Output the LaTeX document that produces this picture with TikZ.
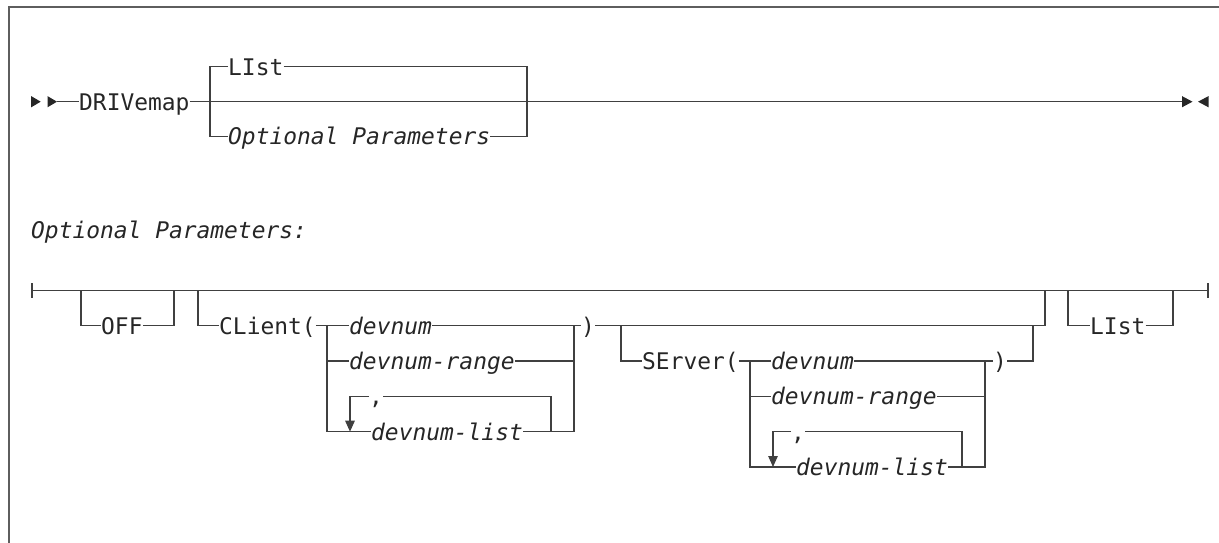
\documentclass[tikz,border=0pt]{standalone}
\usepackage{fontspec}
\setmonofont{DejaVu Sans Mono}
\usetikzlibrary{arrows.meta}
\definecolor{linec}{HTML}{404040}
\definecolor{framec}{HTML}{5E5E5E}
\definecolor{txtc}{HTML}{262626}
\newcommand{\rrfont}{\fontsize{22.9pt}{26pt}\selectfont\ttfamily}
\begin{document}
\begin{tikzpicture}[x=1pt,y=-1pt,
  rr/.style={draw=linec,line width=1.3pt},
  kw/.style={inner sep=0pt,text height=16.7pt,text depth=0pt,anchor=west,text=txtc,font=\rrfont},
  var/.style={kw,font=\rrfont\itshape},
  tipfill/.style={fill=txtc,draw=none},
  loopdown/.style={rr,-{Triangle[length=11pt,width=9.5pt]}}]
\useasboundingbox (0,0) rectangle (1219,543);
% frame
\draw[draw=framec,line width=2pt] (9.3,543) -- (9.3,7.3) -- (1219,7.3);
% ---------------- top diagram
\def\ya{66.7}\def\yb{101.7}\def\yc{136.4}
\coordinate (st1) at (31.2,\yb);
\coordinate (st2) at (47.5,\yb);
\coordinate (s0) at (57,\yb);
\fill[tipfill] (st1) ++(0,-5.6) -- ++(9.5,5.6) -- ++(-9.5,5.6) -- cycle;
\fill[tipfill] (st2) ++(0,-5.6) -- ++(9.5,5.6) -- ++(-9.5,5.6) -- cycle;
\node[kw] (drive) at (79,\yb) {DRIVemap};
\coordinate (ja) at (210,\yb);
\coordinate (jb) at (527,\yb);
\coordinate (tend) at (1182,\yb);
\coordinate (tend2) at (1208.5,\yb);
\draw[rr] (s0) -- (drive.west);
\draw[rr] (drive.east) -- (tend);
\node[kw] (list1) at (228,\ya) {LIst};
\node[var] (opt1) at (228,\yc) {Optional Parameters};
\draw[rr] (list1.west) -- (list1.west -| ja) -- (opt1.west -| ja) -- (opt1.west);
\draw[rr] (list1.east) -- (list1.east -| jb) -- (opt1.east -| jb) -- (opt1.east);
\fill[tipfill] (tend) ++(0,-5.6) -- ++(10.5,5.6) -- ++(-10.5,5.6) -- cycle;
\fill[tipfill] (tend2) ++(0,-5.6) -- ++(-10.5,5.6) -- ++(10.5,5.6) -- cycle;
% label
\node[var] (optlab) at (31,230) {Optional Parameters:};
% ---------------- lower diagram
\def\la{290.5}\def\lb{325.8}\def\lc{361.1}\def\ld{396.4}\def\le{431.7}\def\lf{467.0}
\coordinate (lstart) at (32,\la);
\coordinate (lend) at (1208,\la);
\draw[rr] (lstart) -- (lend);
\draw[rr] (lstart) ++(0,-7.5) -- ++(0,15);
\draw[rr] (lend) ++(0,-7.5) -- ++(0,15);
% OFF
\coordinate (offl) at (81,\la);
\coordinate (offr) at (174,\la);
\node[kw] (off) at (101,\lb) {OFF};
\draw[rr] (offl) |- (off.west);
\draw[rr] (off.east) -| (offr);
% CLient
\coordinate (cll) at (198,\la);
\coordinate (clr) at (1045,\la);
\node[kw] (client) at (219,\lb) {CLient(};
\coordinate (cj) at (327,\lb);
\node[var] (cdev) at (349,\lb) {devnum};
\coordinate (cr) at (574,\lb);
\node[kw] (cpar) at (581,\lb) {)};
\draw[rr] (cll) |- (client.west);
\draw[rr] (client.east) -- (cdev.west);
\draw[rr] (cdev.east) -- (cpar.west);
\draw[rr] (cpar.east) -| (clr);
\node[var] (crange) at (349,\lc) {devnum-range};
\node[kw] (ccomma) at (369,\ld) {,};
\node[var] (clist) at (371,\le) {devnum-list};
\coordinate (clpl) at (350,\ld);
\coordinate (clpr) at (551,\ld);
\draw[rr] (cj) |- (crange.west);
\draw[rr] (cj) |- (clist.west);
\draw[rr] (crange.east) -| (cr);
\draw[rr] (clist.east) -| (cr);
\draw[rr] (ccomma.east) -- (clpr) -- (clpr |- clist.east);
\draw[loopdown] (ccomma.west) -| (clpl |- clist.west);
% SErver
\coordinate (svl) at (621,\lb);
\coordinate (svr) at (1033,\lb);
\node[kw] (server) at (642,\lc) {SErver(};
\coordinate (sj) at (750,\lc);
\node[var] (sdev) at (771,\lc) {devnum};
\coordinate (sr) at (985,\lc);
\node[kw] (spar) at (993,\lc) {)};
\draw[rr] (svl) |- (server.west);
\draw[rr] (server.east) -- (sdev.west);
\draw[rr] (sdev.east) -- (spar.west);
\draw[rr] (spar.east) -| (svr);
\node[var] (srange) at (771,\ld) {devnum-range};
\node[kw] (scomma) at (791,\le) {,};
\node[var] (slist) at (796,\lf) {devnum-list};
\coordinate (slpl) at (773,\le);
\coordinate (slpr) at (962,\le);
\draw[rr] (sj) |- (srange.west);
\draw[rr] (sj) |- (slist.west);
\draw[rr] (srange.east) -| (sr);
\draw[rr] (slist.east) -| (sr);
\draw[rr] (scomma.east) -- (slpr) -- (slpr |- slist.east);
\draw[loopdown] (scomma.west) -| (slpl |- slist.west);
% LIst
\coordinate (lil) at (1068,\la);
\coordinate (lir) at (1173,\la);
\node[kw] (list2) at (1090,\lb) {LIst};
\draw[rr] (lil) |- (list2.west);
\draw[rr] (list2.east) -| (lir);
\end{tikzpicture}
\end{document}
